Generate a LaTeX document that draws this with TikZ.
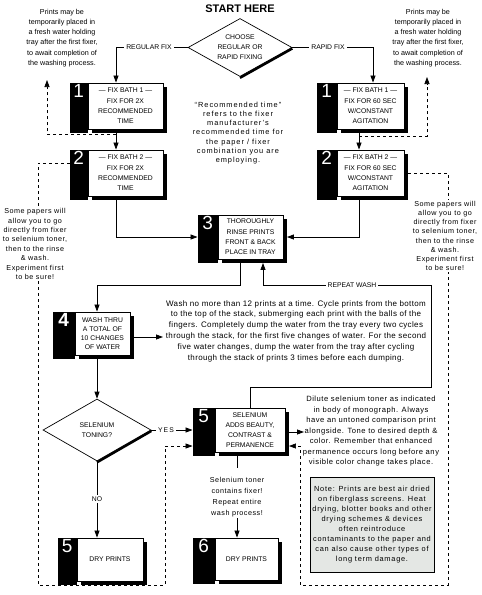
\documentclass[tikz,border=0pt]{standalone}
\usepackage{fontspec}
\setmainfont{Liberation Sans}
\newfontfamily\lsA[LetterSpace=7]{Liberation Sans}
\newfontfamily\lsB[LetterSpace=10]{Liberation Sans}
\newfontfamily\lsC[LetterSpace=13]{Liberation Sans}
\newfontfamily\lsW[LetterSpace=4.5]{Liberation Sans}
\usetikzlibrary{arrows.meta,shapes.geometric,shadows}
\tikzset{
 box/.style={draw, line width=0.9pt, fill=white, inner sep=0pt, align=center,
   font=\fontsize{6.8}{10.3}\selectfont,
   drop shadow={shadow xshift=3.5pt, shadow yshift=-3.5pt, fill=black, opacity=1}},
 tabnum/.style={text=white, font=\fontsize{19}{19}\selectfont, anchor=north, inner sep=0pt},
 conn/.style={line width=0.8pt, -{Triangle[length=7pt,width=5pt]}},
 plain/.style={line width=0.8pt},
 dasharrow/.style={line width=0.7pt, dash pattern=on 3pt off 3pt, -{Triangle[length=7pt,width=5pt]}},
 note/.style={align=center, font=\fontsize{7.2}{10.2}\selectfont, inner sep=1pt},
 lbl/.style={fill=white, font=\fontsize{6.8}{8}\selectfont, inner sep=2pt},
 dia/.style={diamond, draw, line width=0.7pt, fill=white, inner sep=0pt, aspect=1.8, align=center,
   font=\fontsize{6.8}{10}\selectfont},
}
\begin{document}
\begin{tikzpicture}[x=1pt,y=-1pt]
\useasboundingbox (0,0) rectangle (482,595);
\fill[white] (0,0) rectangle (482,595);

% title and decisions
\node[font=\bfseries\fontsize{11}{11}\selectfont] (title) at (240,9) {START HERE};
\node[dia, minimum width=104pt, minimum height=58pt] (d1) at (240,47.5) {CHOOSE\\REGULAR OR\\RAPID FIXING};
\draw[line width=2.4pt] ([yshift=-1pt]d1.east) -- ([yshift=-1pt]d1.south);

% boxes
\node[box, minimum width=75pt, minimum height=46pt] (L1) at (125.5,106) {— FIX BATH 1 —\\FIX FOR 2X\\RECOMMENDED\\TIME};
\node[box, minimum width=75pt, minimum height=46pt] (L2) at (125.5,173) {— FIX BATH 2 —\\FIX FOR 2X\\RECOMMENDED\\TIME};
\node[box, minimum width=67pt, minimum height=46pt] (R1) at (370.5,106) {— FIX BATH 1 —\\FIX FOR 60 SEC\\W/CONSTANT\\AGITATION};
\node[box, minimum width=67pt, minimum height=46pt] (R2) at (370.5,173) {— FIX BATH 2 —\\FIX FOR 60 SEC\\W/CONSTANT\\AGITATION};
\node[box, minimum width=65pt, minimum height=44pt] (b3) at (250.5,237) {THOROUGHLY\\RINSE PRINTS\\FRONT \& BACK\\PLACE IN TRAY};
\node[box, minimum width=55pt, minimum height=43pt, font=\fontsize{6.8}{9.2}\selectfont] (b4) at (102.5,333.5) {WASH THRU\\A TOTAL OF\\10 CHANGES\\OF WATER};
\node[box, minimum width=70pt, minimum height=44pt, font=\fontsize{6.8}{10}\selectfont] (b5) at (250,430) {SELENIUM\\ADDS BEAUTY,\\CONTRAST \&\\PERMANENCE};
\node[box, minimum width=63pt, minimum height=42pt] (b6) at (246.5,559) {DRY PRINTS};
\node[box, minimum width=66pt, minimum height=43pt] (b5l) at (110,559.5) {DRY PRINTS};

% tabs
\fill ([xshift=-18pt]L1.north west) rectangle ([yshift=-3.5pt]L1.south west);
\fill ([xshift=-18pt]L2.north west) rectangle ([yshift=-3.5pt]L2.south west);
\fill ([xshift=-20pt]R1.north west) rectangle ([yshift=-3.5pt]R1.south west);
\fill ([xshift=-20pt]R2.north west) rectangle ([yshift=-3.5pt]R2.south west);
\fill ([xshift=-20pt]b3.north west) rectangle ([yshift=-3.5pt]b3.south west);
\fill ([xshift=-22pt]b4.north west) rectangle ([yshift=-3.5pt]b4.south west);
\fill ([xshift=-22pt]b5.north west) rectangle ([yshift=-3.5pt]b5.south west);
\fill ([xshift=-22pt]b6.north west) rectangle ([yshift=-3.5pt]b6.south west);
\fill ([xshift=-19pt]b5l.north west) rectangle ([yshift=-3.5pt]b5l.south west);
\node[tabnum] (n1) at ([xshift=-9pt,yshift=-1.5pt]L1.north west) {1};
\node[tabnum] (n2) at ([xshift=-9pt,yshift=-1.5pt]L2.north west) {2};
\node[tabnum] (n1r) at ([xshift=-10pt,yshift=-1.5pt]R1.north west) {1};
\node[tabnum] (n2r) at ([xshift=-10pt,yshift=-1.5pt]R2.north west) {2};
\node[tabnum] (n3) at ([xshift=-10pt,yshift=-1.5pt]b3.north west) {3};
\node[tabnum, font=\bfseries\fontsize{19}{19}\selectfont] (n4) at ([xshift=-11pt,yshift=-1.5pt]b4.north west) {4};
\node[tabnum] (n5) at ([xshift=-11pt,yshift=-1.5pt]b5.north west) {5};
\node[tabnum] (n6) at ([xshift=-11pt,yshift=-1.5pt]b6.north west) {6};
\node[tabnum] (n5l) at ([xshift=-9.5pt,yshift=-1.5pt]b5l.north west) {5};

% selenium decision
\node[dia, minimum width=108pt, minimum height=62pt] (d2) at (97,430) {SELENIUM\\TONING?};
\draw[line width=2.4pt] ([yshift=-1pt]d2.east) -- ([yshift=-1pt]d2.south);

% coordinates
\coordinate (jl) at ([xshift=-9.5pt,yshift=-5pt]L1.south);
\coordinate (tla) at (47,80);
\coordinate (jr) at ([xshift=-11.5pt,yshift=-7pt]R1.south);
\coordinate (tra) at (427,77);
\coordinate (rwa) at (431,387);
\coordinate (rwb) at (431,285);
\coordinate (wa) at (163,337);
\coordinate (dla) at (304,432);
\coordinate (ls) at ([xshift=-18pt,yshift=10pt]L2.west);
\coordinate (dlA) at (38,585);
\coordinate (dlB) at (165,585);
\coordinate (rs) at ([xshift=4pt]R2.east);
\coordinate (drA) at (448,585);
\coordinate (drB) at (300,585);

% dashed routes
\draw[dasharrow] (jl) -| (tla);
\draw[dasharrow] (jr) -| (tra);
\draw[dasharrow] (ls) -| (dlA) -- (dlB) |- ([xshift=-22pt,yshift=-16pt]b5.west);
\draw[dasharrow] (rs) -| (drA) -- (drB) |- ([xshift=3.5pt,yshift=-16pt]b5.east);

% solid connectors
\draw[conn] (d1.west) -| ([xshift=-9.5pt]L1.north);
\draw[conn] (d1.east) -| ([xshift=2.5pt]R1.north);
\node[lbl] (lreg) at (149,47.5) {REGULAR FIX};
\node[lbl] (lrap) at (328,47.5) {RAPID FIX};
\draw[conn] ([xshift=-9.5pt,yshift=-3.5pt]L1.south) -- ([xshift=-9.5pt]L2.north);
\draw[conn] ([xshift=-11.5pt,yshift=-3.5pt]R1.south) -- ([xshift=-11.5pt]R2.north);
\draw[conn] ([xshift=-9.5pt,yshift=-3.5pt]L2.south) |- ([xshift=-20pt]b3.west);
\draw[conn] ([xshift=-11.5pt,yshift=-3.5pt]R2.south) |- ([xshift=3.5pt]b3.east);
\draw[conn] ([xshift=-10.5pt,yshift=-3.5pt]b3.south) -- ++(0,22.5) -| ([xshift=-5.5pt]b4.north);
\draw[conn] (b5.north) |- (rwa) -- (rwb) -| ([xshift=12.5pt,yshift=-3.5pt]b3.south);
\node[lbl] (lrw) at (352,285) {REPEAT WASH};
\draw[conn] ([xshift=3.5pt,yshift=-3.5pt]b4.east) -- (wa);
\draw[conn] ([xshift=-5.5pt,yshift=-3.5pt]b4.south) -- (d2.north);
\draw[conn] (d2.east) -- ([xshift=-22pt]b5.west);
\node[lbl] (lyes) at (166,430) {Y\,E\,S};
\draw[conn] (d2.south) -- (d2.south |- b5l.north);
\node[lbl] (lno) at (97,499) {NO};
\draw[conn] ([xshift=3.5pt,yshift=-2pt]b5.east) -- (dla);

% notes
\node[note] (tnl) at (62,38) {Prints may be\\temporarily placed in\\a fresh water holding\\tray after the first fixer,\\to await completion of\\the washing process.};
\node[note] (tnr) at (428,38) {Prints may be\\temporarily placed in\\a fresh water holding\\tray after the first fixer,\\to await completion of\\the washing process.};
\node[note, font=\lsC\fontsize{7.4}{9.3}\selectfont] (cn) at (238,133) {“Recommended time”\\refers to the fixer\\manufacturer’s\\recommended time for\\the paper / fixer\\combination you are\\employing.};
\node[note, fill=white, font=\lsA\fontsize{7.2}{9.4}\selectfont] (mnl) at (35,244) {Some papers will\\allow you to go\\directly from fixer\\to selenium toner,\\then to the rinse\\\& wash.\\Experiment first\\to be sure!};
\node[note, fill=white, font=\lsA\fontsize{7.2}{9.2}\selectfont] (mnr) at (445,236) {Some papers will\\allow you to go\\directly from fixer\\to selenium toner,\\then to the rinse\\\& wash.\\Experiment first\\to be sure!};
\node[note, font=\lsW\fontsize{8}{10.8}\selectfont] (wash) at (296,331) {Wash no more than 12 prints at a time. Cycle prints from the bottom\\to the top of the stack, submerging each print with the balls of the\\fingers. Completely dump the water from the tray every two cycles\\through the stack, for the first five changes of water. For the second\\five water changes, dump the water from the tray after cycling\\through the stack of prints 3 times before each dumping.};
\node[note, font=\lsA\fontsize{7.6}{10.5}\selectfont] (dil) at (371,431.5) {Dilute selenium toner as indicated\\in body of monograph. Always\\have an untoned comparison print\\alongside. Tone to desired depth \&\\color. Remember that enhanced\\permanence occurs long before any\\visible color change takes place.};
\node[note, draw, line width=0.6pt, fill={rgb,255:red,228;green,231;blue,228}, minimum width=124pt, minimum height=95pt, font=\lsB\fontsize{7.4}{10}\selectfont] (nb) at (372,524.5) {Note: Prints are best air dried\\on fiberglass screens. Heat\\drying, blotter books and other\\drying schemes \& devices\\often reintroduce\\contaminants to the paper and\\can also cause other types of\\long term damage.};
\node[note, font=\lsA\fontsize{7.2}{11}\selectfont] (sel) at (237,497) {Selenium toner\\contains fixer!\\Repeat entire\\wash process!};
\draw[plain] ([xshift=-13pt,yshift=-3.5pt]b5.south) -- ++(0,12);
\draw[conn] (sel.south) -- (sel.south |- b6.north);
\end{tikzpicture}
\end{document}
